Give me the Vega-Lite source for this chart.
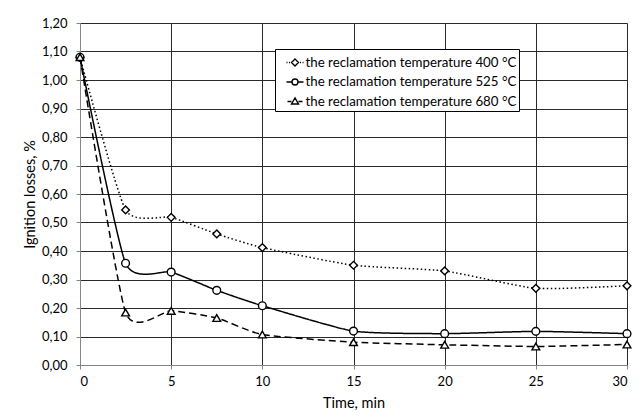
{
  "$schema": "https://vega.github.io/schema/vega-lite/v6.json",
  "width": 547,
  "height": 342,
  "autosize": "none",
  "padding": {"left": 80, "top": 23, "right": 12, "bottom": 55},
  "background": "white",
  "data": {
    "values": [
      {"series": "the reclamation temperature 400 °C", "time": 0, "loss": 1.08},
      {"series": "the reclamation temperature 400 °C", "time": 2.5, "loss": 0.544},
      {"series": "the reclamation temperature 400 °C", "time": 5, "loss": 0.518},
      {"series": "the reclamation temperature 400 °C", "time": 7.5, "loss": 0.46},
      {"series": "the reclamation temperature 400 °C", "time": 10, "loss": 0.412},
      {"series": "the reclamation temperature 400 °C", "time": 15, "loss": 0.35},
      {"series": "the reclamation temperature 400 °C", "time": 20, "loss": 0.33},
      {"series": "the reclamation temperature 400 °C", "time": 25, "loss": 0.269},
      {"series": "the reclamation temperature 400 °C", "time": 30, "loss": 0.278},
      {"series": "the reclamation temperature 525 °C", "time": 0, "loss": 1.08},
      {"series": "the reclamation temperature 525 °C", "time": 2.5, "loss": 0.357},
      {"series": "the reclamation temperature 525 °C", "time": 5, "loss": 0.326},
      {"series": "the reclamation temperature 525 °C", "time": 7.5, "loss": 0.262},
      {"series": "the reclamation temperature 525 °C", "time": 10, "loss": 0.208},
      {"series": "the reclamation temperature 525 °C", "time": 15, "loss": 0.119},
      {"series": "the reclamation temperature 525 °C", "time": 20, "loss": 0.11},
      {"series": "the reclamation temperature 525 °C", "time": 25, "loss": 0.118},
      {"series": "the reclamation temperature 525 °C", "time": 30, "loss": 0.11},
      {"series": "the reclamation temperature 680 °C", "time": 0, "loss": 1.08},
      {"series": "the reclamation temperature 680 °C", "time": 2.5, "loss": 0.184},
      {"series": "the reclamation temperature 680 °C", "time": 5, "loss": 0.19},
      {"series": "the reclamation temperature 680 °C", "time": 7.5, "loss": 0.165},
      {"series": "the reclamation temperature 680 °C", "time": 10, "loss": 0.107},
      {"series": "the reclamation temperature 680 °C", "time": 15, "loss": 0.08},
      {"series": "the reclamation temperature 680 °C", "time": 20, "loss": 0.071},
      {"series": "the reclamation temperature 680 °C", "time": 25, "loss": 0.065},
      {"series": "the reclamation temperature 680 °C", "time": 30, "loss": 0.072}
    ]
  },
  "encoding": {
    "x": {
      "field": "time",
      "type": "quantitative",
      "scale": {"domain": [0, 30], "nice": false, "zero": false},
      "axis": {"values": [0, 5, 10, 15, 20, 25, 30], "title": "Time, min", "labelPadding": 6, "titlePadding": 8}
    },
    "y": {
      "field": "loss",
      "type": "quantitative",
      "scale": {"domain": [0, 1.2], "nice": false},
      "axis": {
        "values": [0, 0.1, 0.2, 0.3, 0.4, 0.5, 0.6, 0.7, 0.8, 0.9, 1.0, 1.1, 1.2],
        "format": ".2f",
        "title": "Ignition losses, %",
        "labelPadding": 9,
        "titlePadding": 4
      }
    }
  },
  "layer": [
    {
      "mark": {"type": "line", "interpolate": "cardinal", "tension": 0.45, "color": "black", "strokeWidth": 1.5},
      "encoding": {
        "strokeDash": {
          "field": "series",
          "type": "nominal",
          "scale": {
            "domain": ["the reclamation temperature 400 °C", "the reclamation temperature 525 °C", "the reclamation temperature 680 °C"],
            "range": [[1.5, 2.5], [1, 0], [7, 4]]
          },
          "legend": null
        }
      }
    },
    {
      "mark": {"type": "point", "filled": true, "fill": "white", "stroke": "black", "strokeWidth": 1.4, "size": 60, "opacity": 1},
      "encoding": {
        "shape": {
          "field": "series",
          "type": "nominal",
          "scale": {
            "domain": ["the reclamation temperature 400 °C", "the reclamation temperature 525 °C", "the reclamation temperature 680 °C"],
            "range": ["diamond", "circle", "triangle-up"]
          },
          "legend": null
        }
      }
    },
    {
      "mark": {"type": "point", "filled": false, "stroke": "black", "opacity": 0},
      "encoding": {
        "shape": {
          "field": "series",
          "type": "nominal",
          "scale": {
            "domain": ["the reclamation temperature 400 °C", "the reclamation temperature 525 °C", "the reclamation temperature 680 °C"],
            "range": [
              "M-0.2,0h0.1M0.05,0h0.1M0.65,-0.35L1,0L0.65,0.35L0.3,0ZM1.15,0h0.1M1.4,0h0.1",
              "M-0.2,0H0.35M0.95,0H1.5M0.35,0A0.3,0.3,0,1,1,0.95,0A0.3,0.3,0,1,1,0.35,0Z",
              "M-0.1,0H0.3M1,0H1.4M0.3,0.25L0.65,-0.35L1,0.25Z"
            ]
          },
          "legend": {
            "title": null,
            "orient": "none",
            "legendX": 195,
            "legendY": 26,
            "symbolSize": 400,
            "symbolStrokeWidth": 1.4,
            "labelFont": "Lato",
            "labelFontSize": 13.3,
            "labelColor": "black",
            "labelOffset": 6,
            "labelLimit": 400,
            "strokeColor": "black",
            "fillColor": "white",
            "padding": 2.5,
            "rowPadding": 1.5,
            "encode": {
              "symbols": {
                "update": {
                  "opacity": {"value": 1},
                  "fill": {"value": "white"},
                  "stroke": {"value": "black"},
                  "strokeWidth": {"value": 1.4},
                  "size": {"value": 400}
                }
              }
            }
          }
        }
      }
    }
  ],
  "resolve": {"scale": {"shape": "independent"}},
  "config": {
    "font": "Lato",
    "locale": {"number": {"decimal": ",", "thousands": " ", "grouping": [3], "currency": ["", ""]}},
    "view": {"stroke": null},
    "axis": {
      "labelFont": "Lato",
      "labelFontSize": 13,
      "labelColor": "black",
      "titleFont": "Lato",
      "titleFontSize": 14.5,
      "titleFontWeight": "normal",
      "titleColor": "black",
      "grid": true,
      "gridColor": "#2a2a2a",
      "gridOpacity": 1,
      "gridWidth": 1,
      "domainColor": "#868686",
      "domainWidth": 1,
      "tickColor": "#868686",
      "tickSize": 4
    }
  }
}
